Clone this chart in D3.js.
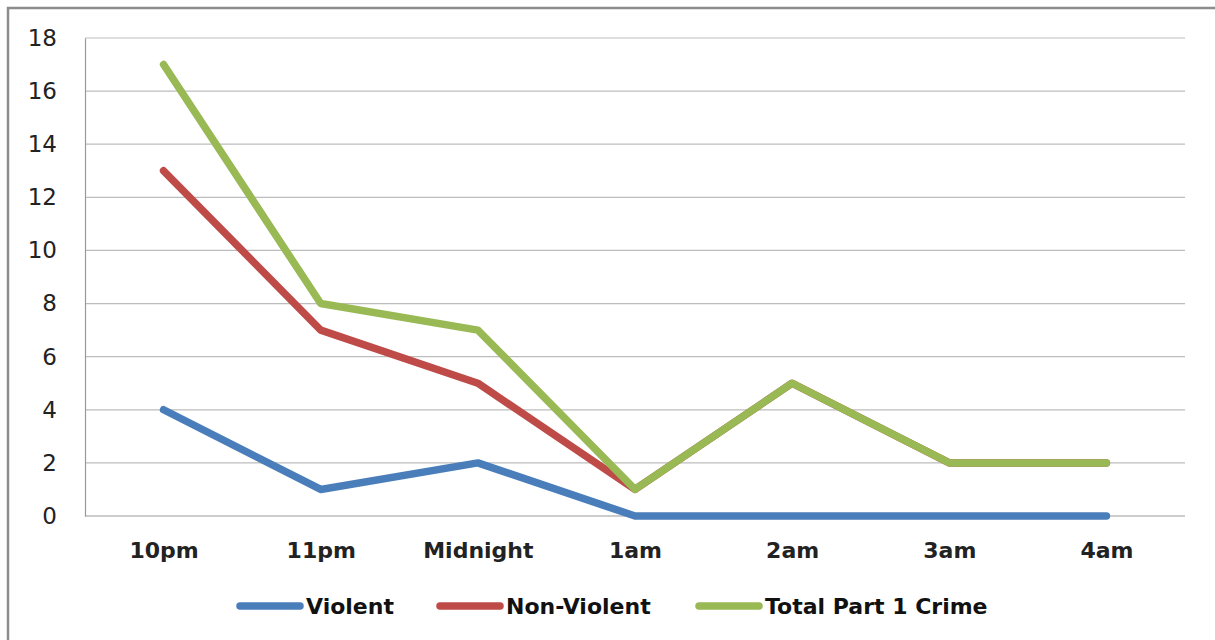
<!DOCTYPE html>
<html>
<head>
<meta charset="utf-8">
<script src="https://cdn.jsdelivr.net/npm/d3@7"></script>
<style>
	body { margin: 0; background: #fff; }
	svg { display: block; }
</style>
</head>
<body>
<svg id="chart" width="1215" height="640"></svg>
<script>
const hours = ['10pm', '11pm', 'Midnight', '1am', '2am', '3am', '4am'];
const violent = [4, 1, 2, 0, 0, 0, 0];
const nonViolent = [13, 7, 5, 1, 5, 2, 2];
const totalPart1 = [17, 8, 7, 1, 5, 2, 2];
const yTicks = [0, 2, 4, 6, 8, 10, 12, 14, 16, 18];

const series = [
	{ name: 'Violent', values: violent, color: '#4a7ebb' },
	{ name: 'Non-Violent', values: nonViolent, color: '#be4b48' },
	{ name: 'Total Part 1 Crime', values: totalPart1, color: '#98b954' },
];

const svg = d3.select('#chart');
const plotLeft = 85, plotRight = 1185, plotTop = 38, plotBottom = 516;

// outer frame (top + left edges visible)
svg.append('path')
	.attr('d', 'M8,640 L8,8 L1215,8')
	.attr('fill', 'none')
	.attr('stroke', '#8c8c8c')
	.attr('stroke-width', 2.5);

const x = d3.scalePoint().domain(hours).range([plotLeft, plotRight]).padding(0.5);
const y = d3.scaleLinear().domain([0, 18]).range([plotBottom, plotTop]);

const grid = svg.append('g');
grid.selectAll('line')
	.data(yTicks.filter(t => t > 0))
	.enter().append('line')
		.attr('x1', plotLeft).attr('x2', plotRight)
		.attr('y1', d => y(d)).attr('y2', d => y(d))
		.attr('stroke', '#bdbdbd')
		.attr('stroke-width', 1.2);

// axes
const yAxis = svg.append('g')
	.attr('transform', `translate(${plotLeft},0)`)
	.call(d3.axisLeft(y).tickValues(yTicks).tickSize(0).tickPadding(28));
yAxis.select('.domain').attr('stroke', '#9a9a9a').attr('stroke-width', 1.2);
yAxis.selectAll('text')
	.attr('font-family', 'DejaVu Sans, sans-serif')
	.attr('font-size', 23)
	.attr('fill', '#222');

const xAxis = svg.append('g')
	.attr('transform', `translate(0,${plotBottom})`)
	.call(d3.axisBottom(x).tickSize(0).tickPadding(26));
xAxis.select('.domain').attr('d', `M${plotLeft},0H${plotRight}`).attr('stroke', '#9a9a9a').attr('stroke-width', 1.2);
xAxis.selectAll('text')
	.attr('font-family', 'DejaVu Sans, sans-serif')
	.attr('font-size', 22)
	.attr('font-weight', 'bold')
	.attr('fill', '#222');

const line = d3.line()
	.x((d, i) => x(hours[i]))
	.y(d => y(d));

svg.append('g').selectAll('path')
	.data(series)
	.enter().append('path')
		.attr('d', d => line(d.values))
		.attr('fill', 'none')
		.attr('stroke', d => d.color)
		.attr('stroke-width', 7.5)
		.attr('stroke-linejoin', 'round')
		.attr('stroke-linecap', 'round');

// legend
const legendX = [240, 440, 699];
const legend = svg.append('g').selectAll('g')
	.data(series)
	.enter().append('g')
		.attr('transform', (d, i) => `translate(${legendX[i]},606)`);
legend.append('line')
	.attr('x1', 0).attr('x2', 60)
	.attr('stroke', d => d.color)
	.attr('stroke-width', 7.5)
	.attr('stroke-linecap', 'round');
legend.append('text')
	.attr('x', 66)
	.attr('dy', '0.36em')
	.attr('font-family', 'DejaVu Sans, sans-serif')
	.attr('font-size', 22)
	.attr('font-weight', 'bold')
	.attr('fill', '#111')
	.text(d => d.name);
</script>
</body>
</html>
